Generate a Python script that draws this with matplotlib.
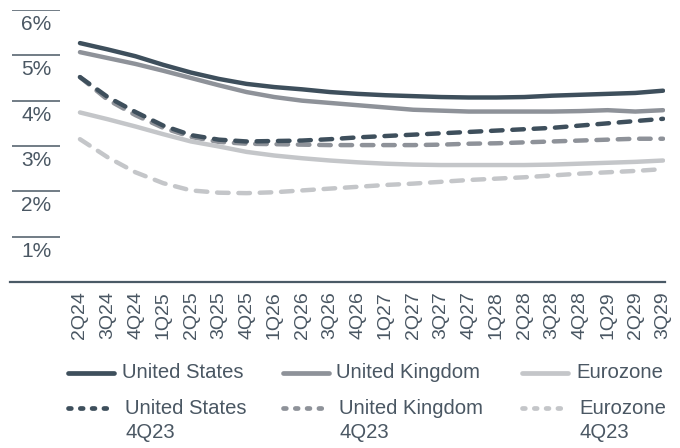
import matplotlib.pyplot as plt
from matplotlib.lines import Line2D

plt.rcParams['font.family'] = ['Liberation Sans', 'DejaVu Sans']

quarters = ['2Q24', '3Q24', '4Q24', '1Q25', '2Q25', '3Q25', '4Q25', '1Q26',
            '2Q26', '3Q26', '4Q26', '1Q27', '2Q27', '3Q27', '4Q27', '1Q28',
            '2Q28', '3Q28', '4Q28', '1Q29', '2Q29', '3Q29']

# current forecasts
us = [5.27, 5.13, 4.98, 4.79, 4.62, 4.48, 4.37, 4.30, 4.25, 4.19, 4.15,
      4.12, 4.10, 4.08, 4.07, 4.07, 4.08, 4.11, 4.13, 4.15, 4.17, 4.22]
uk = [5.07, 4.94, 4.81, 4.66, 4.50, 4.34, 4.19, 4.08, 4.00, 3.95, 3.90,
      3.85, 3.80, 3.78, 3.76, 3.76, 3.76, 3.76, 3.77, 3.79, 3.76, 3.79]
eu = [3.74, 3.59, 3.43, 3.26, 3.10, 2.99, 2.87, 2.79, 2.73, 2.68, 2.64,
      2.61, 2.59, 2.58, 2.58, 2.58, 2.58, 2.59, 2.61, 2.63, 2.65, 2.68]

# forecasts made in 4Q23
us_4q23 = [4.52, 4.08, 3.75, 3.45, 3.24, 3.14, 3.10, 3.11, 3.12, 3.15, 3.19,
           3.22, 3.25, 3.28, 3.31, 3.34, 3.37, 3.40, 3.45, 3.50, 3.55, 3.60]
uk_4q23 = [4.52, 4.02, 3.68, 3.40, 3.20, 3.09, 3.05, 3.04, 3.03, 3.02, 3.02,
           3.02, 3.02, 3.03, 3.05, 3.06, 3.08, 3.10, 3.12, 3.14, 3.16, 3.16]
eu_4q23 = [3.15, 2.75, 2.42, 2.18, 2.02, 1.97, 1.96, 1.98, 2.02, 2.06, 2.10,
           2.14, 2.17, 2.21, 2.25, 2.28, 2.31, 2.35, 2.39, 2.42, 2.45, 2.49]

yvals = [1, 2, 3, 4, 5, 6]

c_us = '#3e4f5c'
c_uk = '#8e9299'
c_eu = '#c4c6c9'
txt = '#4a5763'

fig = plt.figure(figsize=(6.8, 4.48), dpi=100)
ax = fig.add_axes([10 / 680, 166 / 448, 655 / 680, 272 / 448])

x = list(range(len(quarters)))
dash = (0, (2.6, 2.2))
series = [
    (us, c_us, '-'), (uk, c_uk, '-'), (eu, c_eu, '-'),
    (us_4q23, c_us, dash), (uk_4q23, c_uk, dash), (eu_4q23, c_eu, dash),
]
for vals, col, ls in series[::-1]:
    ax.plot(x, vals, color=col, lw=3.2, ls=ls, solid_capstyle='round',
            dash_capstyle='round')

ax.set_xlim(-2.52, 21.07)
ax.set_ylim(0, 6)

for s in ['top', 'right', 'left']:
    ax.spines[s].set_visible(False)
ax.spines['bottom'].set_color('#4a5a66')
ax.spines['bottom'].set_linewidth(1.6)

ax.set_yticks([])
ax.set_xticks(x)
ax.set_xticklabels(quarters, rotation=90, fontsize=14, color=txt)
ax.tick_params(axis='x', length=0, pad=6.5)

# short rules with the percent labels under them
ytr = ax.get_yaxis_transform()
ax.hlines(yvals, 0.003, 0.076, transform=ytr, color='#66727c', lw=1.3)
for v in yvals:
    ax.text(0.04, v - 0.32, f'{v}%', transform=ytr, ha='center', va='center',
            fontsize=15, color=txt)

# legend, laid out in pixels
lax = fig.add_axes([0, 0, 1, 1])
lax.set_xlim(0, 680)
lax.set_ylim(448, 0)
lax.axis('off')

names = ['United States', 'United Kingdom', 'Eurozone']
colors = [c_us, c_uk, c_eu]
hx = [68, 283, 522]
tx = [122, 336, 576]
for name, col, h, t in zip(names, colors, hx, tx):
    lax.add_line(Line2D([h, h + 46], [373, 373], color=col, lw=3.4,
                        solid_capstyle='round'))
    lax.text(t, 373, name, ha='left', va='center', fontsize=14.6, color=txt)
    lax.add_line(Line2D([h, h + 46], [408, 408], color=col, lw=3.4,
                        ls=(0, (0.6, 1.9)), dash_capstyle='round'))
    lax.text(t + 3, 408, name, ha='left', va='center', fontsize=14.6, color=txt)
    lax.text(t + 3, 433, '4Q23', ha='left', va='center', fontsize=14.6,
             color=txt)

fig.savefig('out.png', dpi=100)
